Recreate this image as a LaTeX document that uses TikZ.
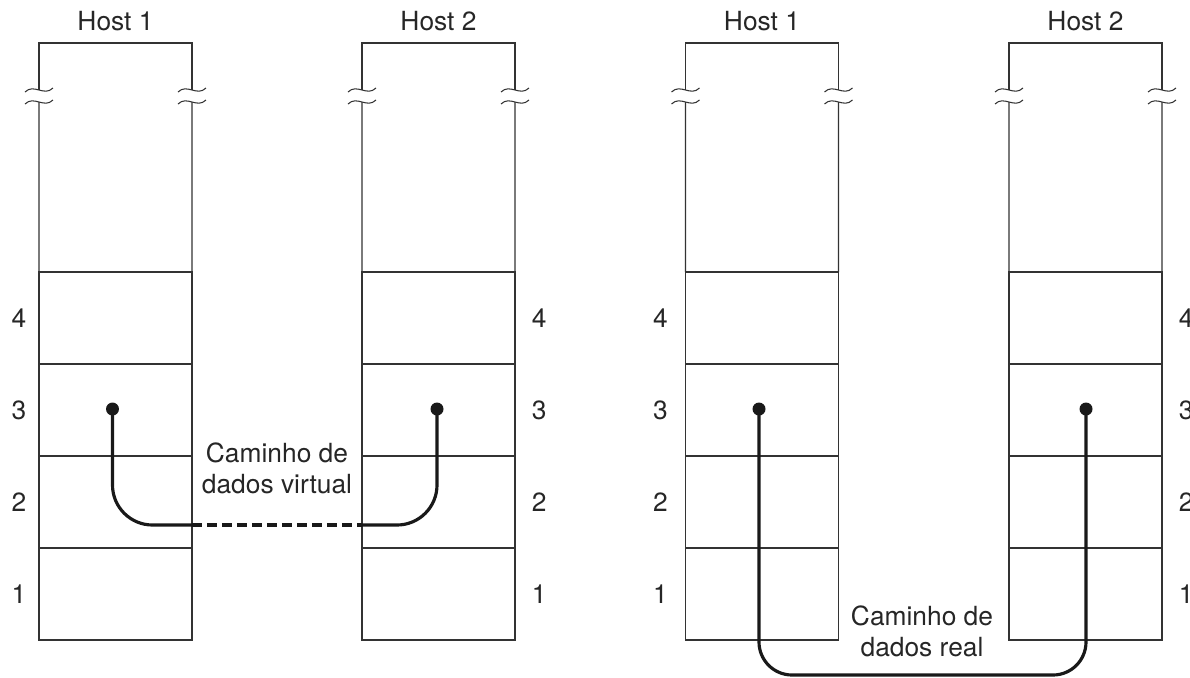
\documentclass[tikz,border=0pt]{standalone}
\usepackage{fontspec}
\setmainfont{TeX Gyre Heros}
\usepackage{tikz}
\usetikzlibrary{positioning}

\begin{document}
\begin{tikzpicture}[
    x=0.02cm, y=-0.02cm,
    font=\fontsize{15}{17.8}\selectfont,
    text=black!85,
    layer/.style={draw=black!80, line width=0.75pt, minimum width=3.06cm, minimum height=1.84cm, inner sep=0pt, outer sep=0pt},
    frame/.style={draw=black!80, line width=0.75pt},
    brk/.style={draw=black!80, line width=0.6pt},
    num/.style={inner sep=0pt},
    hostlabel/.style={inner sep=0pt},
    pathlabel/.style={align=center, inner sep=0pt},
    dot/.style={circle, fill=black!90, inner sep=0pt, minimum size=0.26cm},
    datapath/.style={line width=1.8pt, black!90},
    virtual/.style={line width=1.8pt, black!90, dash pattern=on 0.2cm off 0.1cm}
]
\useasboundingbox (0,0) rectangle (1190,677);

% four protocol stacks, layers 1..4 plus the cut-off upper part
\foreach \s/\x/\h/\side/\gap in {L1/115.5/1/left/0.25cm, L2/438.5/2/right/0.33cm, R1/762/1/left/0.35cm, R2/1085.5/2/right/0.33cm} {
    \foreach \n in {1,...,4} {
        \node[layer] (\s-\n) at (\x, {686-92*\n}) {};
        \node[num, \side=\gap of \s-\n] (\s-num\n) {\n};
    }
    \draw[frame] (\x-76.5, 90) -- (\x-76.5, 43) -- (\x+76.5, 43) -- (\x+76.5, 90);
    \draw[frame] (\x-76.5, 102) -- (\s-4.north west);
    \draw[frame] (\x+76.5, 102) -- (\s-4.north east);
    \foreach \dx in {-76.5, 76.5}
        \foreach \yy in {90, 102}
            \draw[brk] ({\x+(\dx)-14}, {\yy+2}) .. controls ({\x+(\dx)-5}, {\yy-7}) and ({\x+(\dx)+5}, {\yy+7}) .. ({\x+(\dx)+14}, {\yy-2});
    \node[hostlabel] (\s-host) at (\x, 21) {Host \h};
}

% virtual path between the layer-3 entities
\node[dot] (v1) at (112.5, 409) {};
\node[dot] (v2) at (437, 409) {};
\coordinate (vl) at (L1-2.east |- 0,525);
\coordinate (vr) at (L2-2.west |- 0,525);
\draw[datapath, rounded corners=0.8cm] (v1.center) |- (vl);
\draw[virtual] (vl) -- (vr);
\draw[datapath, rounded corners=0.8cm] (vr) -| (v2.center);
\node[pathlabel] (vlabel) at (277, 468) {Caminho de\\dados virtual};

% real path down through the lower layers
\node[dot] (r1) at (759, 409) {};
\node[dot] (r2) at (1086, 409) {};
\coordinate (rbot) at (922, 675);
\draw[datapath, rounded corners=0.66cm] (r1.center) |- (rbot) -| (r2.center);
\node[pathlabel] (rlabel) at (922, 631) {Caminho de\\dados real};
\end{tikzpicture}
\end{document}
